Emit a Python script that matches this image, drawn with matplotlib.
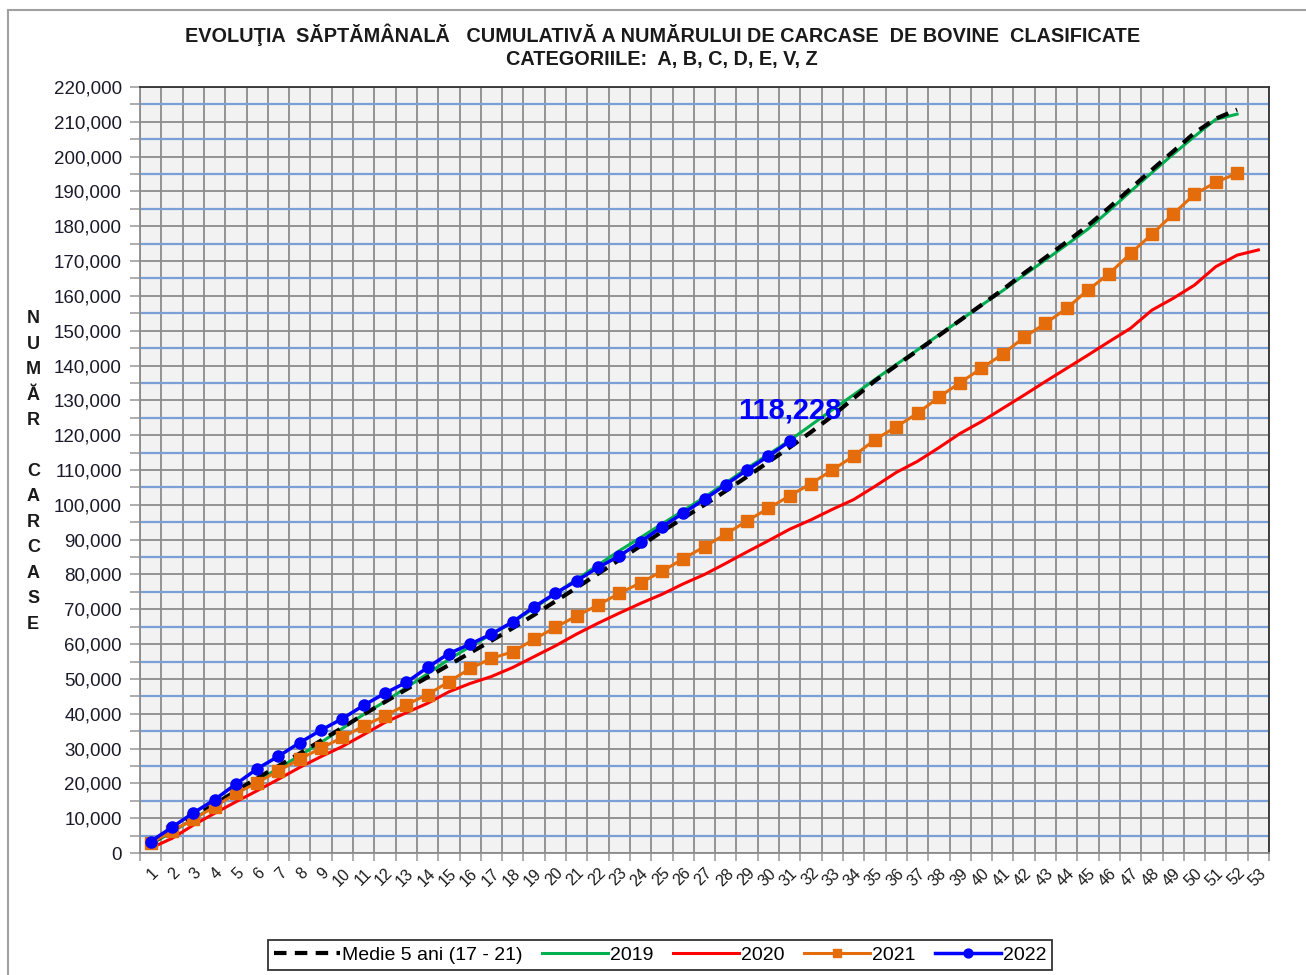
import matplotlib.pyplot as plt
import matplotlib.ticker as mticker
from matplotlib.lines import Line2D
import numpy as np

plt.rcParams['font.family'] = ['Liberation Sans', 'DejaVu Sans']

weeks = list(range(1, 54))
week_labels = [str(w) for w in weeks]

medie_5ani = [2800, 6500, 10300, 14000, 17800, 21500, 25000, 28600, 32300, 36000,
              39800, 43400, 47000, 50500, 54000, 57500, 61000, 64600, 68400, 72300,
              76200, 80200, 84200, 88200, 92300, 96200, 100000, 104000, 108100, 112300,
              116500, 120900, 125500, 130600, 135600, 140000, 144300, 148600, 153000, 157400,
              161800, 166500, 171000, 175500, 180200, 185400, 190800, 196200, 201500, 206800,
              210900, 213500]
y2019 = [2500, 6000, 9800, 13500, 17300, 20800, 24300, 28000, 31800, 35800,
         39800, 43500, 47500, 51500, 55600, 59300, 62800, 66300, 70300, 74500,
         78600, 82700, 86800, 90600, 94500, 98300, 102200, 106300, 110500, 114500,
         118500, 122900, 127300, 131600, 136000, 140300, 144500, 148800, 153000, 157300,
         161500, 166000, 170300, 174700, 179200, 184500, 190000, 195400, 200700, 205800,
         210700, 212200]
y2020 = [1400, 4200, 8000, 11400, 14700, 17900, 21200, 24600, 27700, 30600,
         34000, 37500, 40300, 43000, 46300, 48700, 50700, 53300, 56400, 59500,
         62900, 66000, 68900, 71700, 74300, 77300, 80000, 83200, 86500, 89700,
         93000, 95700, 98700, 101500, 105300, 109300, 112500, 116400, 120500, 123900,
         127700, 131500, 135400, 139200, 143000, 146900, 150700, 155900, 159300, 163100,
         168400, 171700, 173200]
y2021 = [2800, 6300, 9700, 13300, 17100, 20200, 23600, 27000, 30100, 33200,
         36500, 39400, 42600, 45500, 49200, 53000, 55900, 57800, 61400, 64800,
         68100, 71200, 74600, 77600, 80900, 84500, 88000, 91600, 95400, 99000,
         102600, 106100, 110000, 114000, 118700, 122400, 126300, 130900, 135100, 139200,
         143300, 148100, 152100, 156400, 161700, 166400, 172200, 177700, 183500, 189200,
         192600, 195200]
y2022 = [3300, 7400, 11500, 15300, 19800, 24200, 27800, 31700, 35300, 38600,
         42400, 45900, 49000, 53300, 57300, 60000, 62900, 66400, 70700, 74600,
         78200, 82000, 85300, 89400, 93700, 97600, 101600, 105800, 110000, 114000,
         118228]

fig = plt.figure(figsize=(13.06, 9.75), dpi=100)
ax = fig.add_axes([0.1072, 0.1251, 0.8645, 0.7857])
ax.set_facecolor('#F2F2F2')

# chart border (top and left edges visible)
fig.add_artist(Line2D([8 / 1306, 8 / 1306], [0, 1 - 10 / 975], color='#A0A0A0', lw=1.5))
fig.add_artist(Line2D([8 / 1306, 1], [1 - 10 / 975, 1 - 10 / 975], color='#A0A0A0', lw=1.5))

l19, = ax.plot(weeks[:len(y2019)], y2019, color='#00B050', lw=2.2, zorder=3)
lm, = ax.plot(weeks[:len(medie_5ani)], medie_5ani, color='black', lw=3, ls=(0, (3, 2)), zorder=3)
l20, = ax.plot(weeks[:len(y2020)], y2020, color='#FF0000', lw=2.2, zorder=3)
l21, = ax.plot(weeks[:len(y2021)], y2021, color='#E46C0A', lw=2.2, marker='s', ms=8, zorder=4)
l22, = ax.plot(weeks[:len(y2022)], y2022, color='#0000FF', lw=2.5, marker='o', ms=8, zorder=5)

ax.annotate(f'{y2022[-1]:,}', xy=(weeks[len(y2022) - 1], y2022[-1]), xytext=(0, 22),
            textcoords='offset points', ha='center', va='center', color='#0000FF',
            fontsize=21, fontweight='bold', zorder=6)

ax.set_xlim(0.5, 53.5)
ax.set_ylim(0, 220000)

ax.xaxis.set_major_locator(mticker.FixedLocator(weeks))
ax.xaxis.set_minor_locator(mticker.FixedLocator(np.arange(0.5, 54, 1)))
ax.set_xticklabels(week_labels, rotation=45, ha='right', va='top', rotation_mode='anchor')
ax.tick_params(axis='x', which='major', length=0, labelsize=11.5, pad=9, labelcolor='#1a1a1a')
ax.tick_params(axis='x', which='minor', length=6, color='#A0A0A0', width=1.2)

ax.yaxis.set_major_locator(mticker.MultipleLocator(10000))
ax.yaxis.set_minor_locator(mticker.MultipleLocator(5000))
ax.yaxis.set_major_formatter(mticker.FuncFormatter(lambda v, p: f'{int(v):,}'))
ax.tick_params(axis='y', which='both', length=7, color='#A0A0A0', width=1.2)
ax.tick_params(axis='y', which='major', labelsize=13.5, pad=6, labelcolor='#1a1a2a')

ax.grid(which='minor', axis='x', color='#8C8C8C', lw=1.3)
ax.grid(which='major', axis='y', color='#8C8C8C', lw=1.3)
ax.grid(which='minor', axis='y', color='#7BA0D6', lw=1.6)
ax.set_axisbelow(True)

for side in ['top', 'right']:
    ax.spines[side].set_color('#333333')
    ax.spines[side].set_linewidth(1.3)
for side in ['left', 'bottom']:
    ax.spines[side].set_color('#8C8C8C')
    ax.spines[side].set_linewidth(1.3)

fig.text(0.507, 0.964, 'EVOLUŢIA  SĂPTĂMÂNALĂ   CUMULATIVĂ A NUMĂRULUI DE CARCASE  DE BOVINE  CLASIFICATE',
         ha='center', va='center', fontsize=14.3, fontweight='bold', color='#1a1a1a')
fig.text(0.507, 0.939, 'CATEGORIILE:  A, B, C, D, E, V, Z',
         ha='center', va='center', fontsize=14.3, fontweight='bold', color='#1a1a1a')

fig.text(0.0255, 0.5164, '\n'.join('NUMĂR CARCASE'), ha='center', va='center',
         fontsize=13, fontweight='bold', linespacing=1.65, color='#1a1a1a')

leg = fig.legend([lm, l19, l20, l21, l22], ['Medie 5 ani (17 - 21)', '2019', '2020', '2021', '2022'],
                 loc='center', bbox_to_anchor=(0.5054, 0.0205), ncol=5, fontsize=14,
                 handlelength=3.4, handletextpad=0.1, columnspacing=1.0, frameon=True,
                 fancybox=False, edgecolor='black', borderpad=0.3, markerscale=0.8)
leg.get_frame().set_linewidth(1.3)

fig.savefig('out.png', dpi=100)
